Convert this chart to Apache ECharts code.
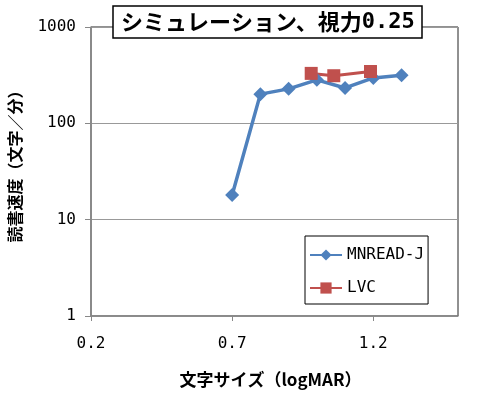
<!DOCTYPE html>
<html>
<head>
<meta charset="utf-8">
<script src="https://cdn.jsdelivr.net/npm/echarts@6/dist/echarts.min.js"></script>
<style>
  html, body { margin: 0; padding: 0; background: #fff; }
  #main { width: 488px; height: 396px; }
</style>
</head>
<body>
<div id="main"></div>
<script>
// 文字サイズ (logMAR) と読書速度
var mnreadX = [0.7, 0.8, 0.9, 1.0, 1.1, 1.2, 1.3];
var mnreadY = [18, 201, 228, 283, 233, 296, 316];
var lvcX = [0.98, 1.06, 1.19];
var lvcY = [330, 312, 345];
var xTicks = [0.2, 0.7, 1.2];

var fontJP = '"Noto Sans CJK JP", sans-serif';
var fontNum = '"DejaVu Sans Mono", "Liberation Mono", monospace';

function pairs(xs, ys) {
    var out = [];
    for (var i = 0; i < xs.length; i++) {
        out.push([xs[i], ys[i]]);
    }
    return out;
}

var chart = echarts.init(document.getElementById('main'));
var option = {
    animation: false,
    title: {
        text: '{a|シミュレーション、視力}{b|0.25}',
        left: 113,
        top: 6,
        padding: [5, 8, 5, 8],
        backgroundColor: '#fff',
        borderColor: '#000',
        borderWidth: 1.5,
        textStyle: {
            rich: {
                a: { fontFamily: fontJP, fontSize: 22, color: '#000' },
                b: { fontFamily: fontNum, fontSize: 22, color: '#000' }
            }
        }
    },
    legend: {
        orient: 'vertical',
        left: 305,
        top: 236,
        padding: [11, 4, 8, 4],
        itemGap: 17,
        itemWidth: 32,
        itemHeight: 14,
        borderColor: '#000',
        borderWidth: 1,
        backgroundColor: '#fff',
        textStyle: {
            fontFamily: fontNum,
            fontSize: 16,
            color: '#000'
        },
        data: ['MNREAD-J', 'LVC']
    },
    grid: {
        left: 91,
        right: 30,
        top: 27,
        bottom: 80,
        outerBoundsMode: 'none',
        show: true,
        borderColor: '#222',
        borderWidth: 1
    },
    xAxis: {
        type: 'value',
        min: 0.2,
        max: 1.5,
        interval: 0.5,
        name: '文字サイズ（logMAR）',
        nameLocation: 'middle',
        nameGap: 55,
        nameTextStyle: {
            fontFamily: fontJP,
            fontSize: 17,
            fontWeight: 'bold',
            color: '#000',
            padding: [0, 8, 0, 0]
        },
        axisLine: { lineStyle: { color: '#888', width: 1.5 } },
        axisTick: { length: 5, customValues: xTicks, lineStyle: { color: '#888' } },
        axisLabel: {
            customValues: xTicks,
            margin: 20,
            fontFamily: fontNum,
            fontSize: 16,
            color: '#000',
            formatter: function (v) { return v.toFixed(1); }
        },
        splitLine: { show: false }
    },
    yAxis: {
        type: 'log',
        logBase: 10,
        min: 1,
        max: 1000,
        name: '読書速度（文字／分）',
        nameLocation: 'middle',
        nameGap: 68,
        nameTextStyle: {
            fontFamily: fontJP,
            fontSize: 16,
            fontWeight: 'bold',
            color: '#000',
            padding: [0, 0, 0, 18]
        },
        axisLine: { show: true, lineStyle: { color: '#888', width: 1.5 } },
        axisTick: { show: true, length: 6, lineStyle: { color: '#888' } },
        axisLabel: {
            margin: 15,
            fontFamily: fontNum,
            fontSize: 16,
            color: '#000',
            formatter: function (v) { return String(v); }
        },
        splitLine: { show: true, lineStyle: { color: '#999', width: 1 } }
    },
    series: [
        {
            name: 'MNREAD-J',
            type: 'line',
            data: pairs(mnreadX, mnreadY),
            symbol: 'diamond',
            symbolSize: 14,
            lineStyle: { color: '#4F81BD', width: 3.5 },
            itemStyle: { color: '#4F81BD' }
        },
        {
            name: 'LVC',
            type: 'line',
            data: pairs(lvcX, lvcY),
            symbol: 'rect',
            symbolSize: 13,
            lineStyle: { color: '#C0504D', width: 3 },
            itemStyle: { color: '#C0504D' }
        }
    ]
};
chart.setOption(option);
</script>
</body>
</html>
